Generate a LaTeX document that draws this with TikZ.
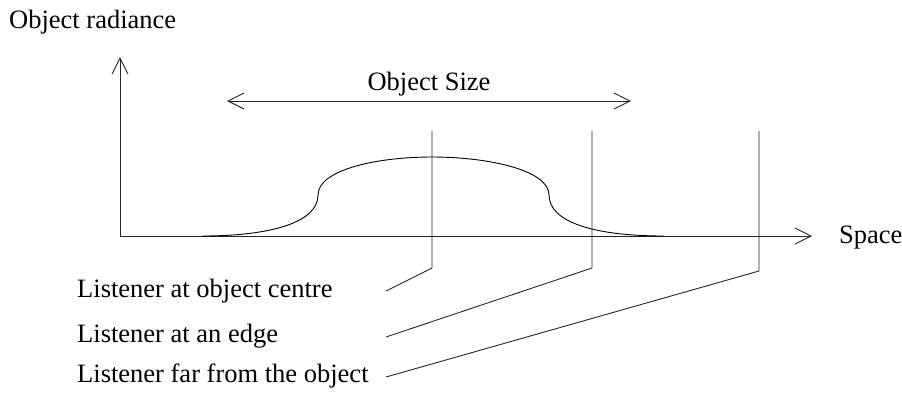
\documentclass[tikz,border=0pt]{standalone}
\usepackage{fontspec}
\setmainfont{Liberation Serif}
\usetikzlibrary{arrows.meta}
\begin{document}
\begin{tikzpicture}[x=1pt,y=-1pt,
  line/.style={draw=black!85,line width=0.9pt},
  arr/.style={line,-{Straight Barb[length=16pt,width=16pt,line width=0.9pt]}},
  darr/.style={line,{Straight Barb[length=16pt,width=16pt,line width=0.9pt]}-{Straight Barb[length=16pt,width=16pt,line width=0.9pt]}},
  lbl/.style={inner sep=0pt,font=\fontsize{26.5}{30}\selectfont},
  curve/.style={draw=black,line width=0.9pt}]
\useasboundingbox (0,0) rectangle (902,392);
% axes
\coordinate (O) at (120,236);
\coordinate (ytop) at (120,57);
\coordinate (xend) at (812,236);
\draw[arr] (O) -- (ytop);
\draw[arr] (O) -- (xend);
\node[lbl,anchor=base west] (ylab) at (9,28) {Object radiance};
\node[lbl,anchor=base west] (xlab) at (839,243) {Space};
% object size
\coordinate (sL) at (227,101);
\coordinate (sR) at (631,101);
\draw[darr] (sL) -- (sR);
\node[lbl,anchor=base] (slab) at (429,90) {Object Size};
% radiance curve
\draw[curve] (202,236) .. controls (272,236) and (318,222) .. (318,195)
  .. controls (318,170) and (376,157) .. (432,157)
  .. controls (488,157) and (549,170) .. (549,195)
  .. controls (549,222) and (594,236) .. (664,236);
% listeners
\coordinate (t1) at (432,131); \coordinate (b1) at (432,268); \coordinate (e1) at (386,291);
\coordinate (t2) at (592,131); \coordinate (b2) at (592,268); \coordinate (e2) at (386,337);
\coordinate (t3) at (759,131); \coordinate (b3) at (759,271); \coordinate (e3) at (386,377);
\draw[line] (t1) -- (b1) -- (e1);
\draw[line] (t2) -- (b2) -- (e2);
\draw[line] (t3) -- (b3) -- (e3);
\node[lbl,anchor=base west] (l1) at (77,297) {Listener at object centre};
\node[lbl,anchor=base west] (l2) at (77,342) {Listener at an edge};
\node[lbl,anchor=base west] (l3) at (77,382) {Listener far from the object};
\end{tikzpicture}
\end{document}
